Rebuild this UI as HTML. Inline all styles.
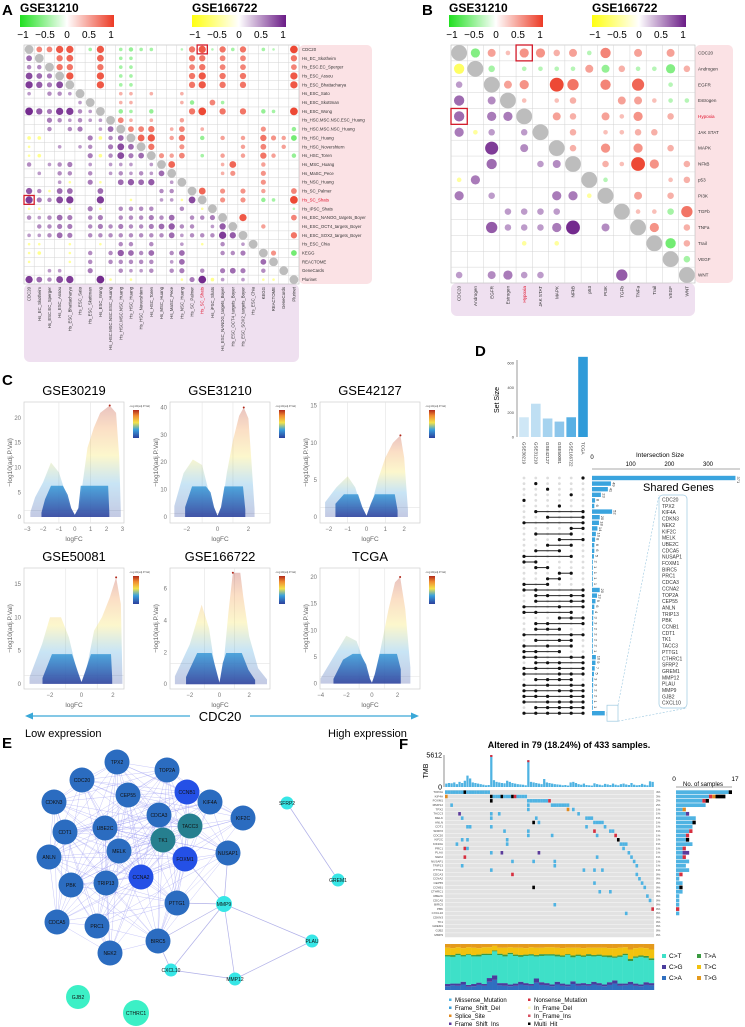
<!DOCTYPE html>
<html><head><meta charset="utf-8"><style>
html,body{margin:0;padding:0;background:#fff;}
svg{display:block;font-family:"Liberation Sans",Arial,sans-serif;}
</style></head><body>
<svg id="fig" width="745" height="1027" viewBox="0 0 745 1027" xmlns="http://www.w3.org/2000/svg">
<defs>
<linearGradient id="gRG" x1="0" x2="1" y1="0" y2="0"><stop offset="0" stop-color="#1fe01f"/><stop offset="0.5" stop-color="#ffffff"/><stop offset="1" stop-color="#ec3a25"/></linearGradient>
<linearGradient id="gYP" x1="0" x2="1" y1="0" y2="0"><stop offset="0" stop-color="#ffff10"/><stop offset="0.5" stop-color="#ffffff"/><stop offset="1" stop-color="#6a1b86"/></linearGradient>
<linearGradient id="gVL" x1="0" x2="0" y1="1" y2="0"><stop offset="0" stop-color="#2b3f9c"/><stop offset="0.3" stop-color="#3aa0dc"/><stop offset="0.55" stop-color="#f3e24a"/><stop offset="0.8" stop-color="#f08a30"/><stop offset="1" stop-color="#b0281a"/></linearGradient>
</defs>
<rect x="0" y="0" width="745" height="1027" fill="#fff"/>
</svg>
<script>
// ---------- DATA ----------
const labelsA = ["CDC20","Hs_EC_Skotheim","Hs_ESC.EC_Sperger","Hs_ESC_Assou","Hs_ESC_Bhattacharya","Hs_ESC_Sato","Hs_ESC_Skottman","Hs_ESC_Wong","Hs_HSC.MSC.NSC.ESC_Huang","Hs_HSC.MSC.NSC_Huang","Hs_HSC_Huang","Hs_HSC_Novershtern","Hs_HSC_Toren","Hs_MSC_Huang","Hs_MaSC_Pece","Hs_NSC_Huang","Hs_SC_Palmer","Hs_SC_Shats","Hs_iPSC_Shats","Hs_ESC_NANOG_targets_Boyer","Hs_ESC_OCT4_targets_Boyer","Hs_ESC_SOX2_targets_Boyer","Hs_ESC_Chia","KEGG","REACTOME","GeneCards","Plurinet"];
const corrA = [
"D5588.b8.bcbb..a68a6b6.ba.9","5D.67..7.bb.....66.5.5....6","33D66..6.bb.....56.5.5....5","754D8..8.bb.....68.6.6....8",
"8647D..8.bb.....68.6.6....8","2.332D...22.2..2...........",".....2D..22....2c.5b.......","9648832D.cb.c...69.6.6.cb.9",
"..432322D52.2..3...........","..3.34.25D556.25.2.....4..c","bb....4b35D78.36.c.3.3.643e","a..2.23.475D6..4.....3.5.3.",
"ab....4b3745D435.b.3.3.63.c","3.234.2.222.2D7....27..3...",".2.33.3.232325D....24..4...","...2a.4a.5656.2D.......4...",
"63a55..5.....33.D7.4.4.3..5","84378..8..a..22a7D.4.4.cb.9","aa..a.4a.3333..3.aD.......a","32354.34.333435.334D.8....5",
".3344.34343345633.26D..3...","22354.333333335233386D....6","aa..a..a.33.3..2.a.3.2D....","ab..a.3.36535.35...334.D4.e",
"a...a.3.33333.25.......5D..","..22..4..3223.34.3.454.3.D.","85378..9a.a....a49b2.2.aa.D"];
const labelsB = ["CDC20","Androgen","EGFR","Estrogen","Hypoxia","JAK STAT","MAPK","NFkB","p53","PI3K","TGFb","TNFa","Trail","VEGF","WNT"];
const corrB = ["Dd314423a5.3.3.","eDb.aaaa3c2aad2","2.D34.96.5.7.a.","5.3D1.12..331aa","5.44D.32.314.2.","4a2.2D.2.1122..","..8.3.D2.4.4.2.",
"..5..23D.2194.2","a4......Da...12","4.2...44aD.3.2.","...2222...D11b6","..622249.3.D4.2","....a.a.....De2",".............Db","2.3422....6...D"];

// volcano envelopes: [logFC, max -log10 adj.P]
const volNames = ["GSE30219","GSE31210","GSE42127","GSE50081","GSE166722","TCGA"];
const env1 = [[-2.8,1],[-2.5,4],[-2,7],[-1.5,11],[-1,9],[-0.6,5],[-0.3,2],[0,0.5],[0.3,2],[0.5,7],[0.8,14],[1.2,18],[1.6,21],[2.2,22.5],[2.6,21],[2.8,12],[2.9,1]];
const env2 = [[-2.8,4],[-2.2,16],[-1.6,21],[-1,19],[-0.6,10],[-0.3,4],[0,0.5],[0.3,4],[0.6,16],[1,28],[1.4,37],[1.7,40],[2,36],[2.2,20],[2.4,3]];
const env3 = [[-2.2,2],[-1.6,4],[-1,5.5],[-0.6,4],[-0.3,1.5],[0,0.2],[0.3,2],[0.6,5],[1,8],[1.4,10],[1.8,11],[2,8],[2.2,1]];
const env4 = [[-3.3,1],[-2.5,6],[-2,10],[-1.3,10],[-0.8,7],[-0.3,2],[0,0.3],[0.3,2],[0.8,8],[1.3,10],[1.8,13],[2.2,16],[2.5,12],[2.6,1]];
const env5 = [[-3,0.5],[-2,2.5],[-1.2,5],[-0.7,3.5],[-0.3,1],[0,0.1],[0.3,1.5],[0.6,4.5],[0.9,7],[1.4,7],[1.6,5.5],[2,3],[2.6,1],[3.2,0.3]];
const env6 = [[-4,1],[-3,5],[-2,9],[-1.2,8],[-0.6,4],[-0.2,1],[0,0.2],[0.3,2],[0.8,8],[1.3,14],[1.8,19],[2.2,20],[2.6,14],[3,3]];
const volXTicks = [[-3,-2,-1,0,1,2,3],[-2,0,2],[-2,-1,0,1,2],[-2,0,2],[-2,0,2],[-4,-2,0,2]];
const volYTicks = [[0,5,10,15,20],[0,10,20,30,40],[0,5,10,15],[0,5,10,15],[0,2,4,6],[0,5,10,15,20]];
const volXDom = [[-3.2,3.1],[-3.08,3.4],[-2.47,2.84],[-3.65,2.7],[-3.33,3.4],[-4.05,3.75]];
const volYDom = [[-1.2,23.2],[-2.2,42],[-0.8,15.5],[-0.76,17.4],[-0.3,7.3],[-1,21.7]];

// upset
const setNames = ["GSE30219","GSE31210","GSE42127","GSE50081","GSE166722","TCGA"];
const setSizes = [160,270,150,125,160,650];
const combos = ["000001","010000","001000","000010","100000","000100","010001","001001","100001","000011","010010","000101","001010","010100","100010","110000","011000","000110","001100","101000",
"110001","011011","010011","100101","110010","000111","011001","011100","100011","010110","101010","110100",
"110011","011101","110101","100111","011110","101011","110111","111011","101111","011111","111111"];
const comboSizes = [371,49,41,23,8,6,52,20,18,14,10,8,6,6,5,2,1,1,1,1,20,13,9,6,4,3,3,2,2,2,2,1,10,9,7,5,3,3,2,2,1,1,33];
const sharedGenes = ["CDC20","TPX2","KIF4A","CDKN3","NEK2","KIF2C","MELK","UBE2C","CDCA5","NUSAP1","FOXM1","BIRC5","PRC1","CDCA3","CCNA2","TOP2A","CEP55","ANLN","TRIP13","PBK","CCNB1","CDT1","TK1","TACC3","PTTG1","CTHRC1","SFRP2","GREM1","MMP12","PLAU","MMP9","GJB2","CXCL10"];

// network
const netGenes = ["TPX2","TOP2A","CDC20","CCNB1","KIF4A","CDKN3","CEP55","CDCA3","TACC3","KIF2C","CDT1","UBE2C","TK1","MELK","FOXM1","NUSAP1","ANLN","CCNA2","PBK","TRIP13","PTTG1","CDCA5","PRC1","BIRC5","NEK2","SFRP2","GREM1","MMP9","PLAU","CXCL10","MMP12","GJB2","CTHRC1"];
const netGroup = [0,0,0,1,0,0,0,0,2,0,0,0,2,0,1,0,0,1,0,0,0,0,0,0,0,3,3,3,3,3,3,4,4];
const netX = [117,167,82,187,210,54,128,159,190,243,65,105,163,119,185,228,49,141,71,106,177,57,97,158,110,287,338,224,312,171,235,78,136];
const netY = [762,770,780,792,802,802,795,815,826,818,832,828,840,851,859,853,857,877,885,883,903,922,926,941,953,803,880,904,941,970,979,997,1013];
const netR = [12.5,12.5,12.5,12.5,12.5,12.5,12.5,12.5,12.5,12.5,12.5,12.5,12.5,12.5,12.5,12.5,12.5,12.5,12.5,12.5,12.5,12.5,12.5,12.5,12.5,6.5,6.5,8,6.5,6.5,6.5,12,13];
const extraEdges = [["SFRP2","GREM1"],["MMP9","PLAU"],["MMP9","CXCL10"],["MMP9","MMP12"],["CXCL10","MMP12"],["PLAU","MMP12"],["MMP9","PTTG1"],["MMP9","BIRC5"],["MMP9","FOXM1"],["MMP9","NUSAP1"],["CXCL10","BIRC5"]];

// oncoplot
const oncoGenes = ["TOP2A","KIF4A","FOXM1","MMP12","TPX2","TACC3","MELK","ANLN","CDT1","SFRP2","CDC20","KIF2C","KIF20A","PRC1","PLAU","NEK2","NUSAP1","TRIP13","PTTG1","CDCA3","CCNA2","CEP55","CCNB1","CTHRC1","UBE2C","CDCA5","BIRC5","PBK","CXCL10","CDKN3","TK1","GREM1","GJB2","MMP9"];
const oncoMuts = ["0-16m,7x","0s,17-30m,17x,21x,25x,26n","31-39m,17x,39n","40-46m,31m,2m","46s,48m,31m","5f,17m,20m,50m","6m,17m,34m,53-55m","33x,35m,56-59m","8m,9m,17m,53m,60m","22m,31m,56n,62-63m",
"31m,40m,57m,64n","6m,8m,23m,65x","4m,23m,66-68m","7n,8m,67m","17m,21f,35f,69m","7n,57m,70m","25m,33m,41m,71m","6m,41m,72m","17m,52m,56m,59m","25n,72m",
"73m","56m,74m","33x,75m","58m,62m","76m","77m","41m","78n","68m","","","","",""];
const tmb = [600,700,650,800,500,900,700,1100,2000,1500,800,700,600,500,400,300,350,5612,1200,900,800,700,650,1100,900,700,600,500,450,400,300,4700,900,800,700,600,500,1400,800,700,
600,500,450,400,300,350,250,800,900,700,500,400,600,350,300,250,650,500,400,300,550,450,350,600,400,300,500,600,450,350,700,400,300,350,550,400,300,1000,900];
const specCT = [60,58,62,55,65,60,57,63,50,52,61,58,66,60,54,59,62,48,57,60,63,55,58,64,52,60,57,61,55,59,60,54,49,58,62,45,56,60,53,50];
const specCA = [8,10,9,12,7,8,11,9,18,22,10,9,8,9,12,10,9,16,11,10,8,12,9,8,13,9,10,9,12,10,8,11,14,9,10,12,9,8,11,10];
const specCG = [5,4,5,6,4,5,5,4,8,10,5,6,4,5,6,5,4,9,6,5,4,6,5,4,6,5,5,4,6,5,4,6,7,5,4,6,5,4,6,5];
const specTA = [3,4,3,3,2,3,4,3,3,2,3,4,3,3,4,3,3,3,4,3,3,4,3,2,4,3,3,4,3,3,3,4,3,3,3,5,3,3,4,4];
const specTC = [16,15,14,15,15,16,14,14,14,10,13,15,12,15,16,14,15,16,14,15,15,15,16,14,17,15,16,14,16,15,17,16,18,17,14,20,18,17,17,19];
const specTG = [8,9,7,9,7,8,9,7,7,4,8,8,7,8,8,9,7,8,8,7,7,8,9,8,8,8,9,8,8,8,8,9,9,8,7,12,9,8,9,12];
</script>
<script>
const NS='http://www.w3.org/2000/svg';
const svg=document.getElementById('fig');
function mk(tag,a,p){const e=document.createElementNS(NS,tag);for(const k in a)e.setAttribute(k,a[k]);(p||svg).appendChild(e);return e;}
function tx(s,a,p){const e=mk('text',a,p);e.textContent=s;return e;}
function hex(c){return [parseInt(c.slice(1,3),16),parseInt(c.slice(3,5),16),parseInt(c.slice(5,7),16)];}
function mix(c1,c2,t){const a=hex(c1),b=hex(c2);return 'rgb('+a.map((v,i)=>Math.round(v+(b[i]-v)*t)).join(',')+')';}
function dec(ch){if(ch==='.')return 0;if(ch>='1'&&ch<='9')return (ch.charCodeAt(0)-48)/10;return -(ch.charCodeAt(0)-96)/10;}

// ---------- panel letters ----------
[["A",2,15],["B",422,15],["C",2,385],["D",475,356],["E",2,748],["F",399,749]].forEach(p=>{
 const t=tx(p[0],{x:p[1],y:p[2],'font-size':15,'font-weight':'bold'});
 
 
});

// ---------- colorbars ----------
function colorbar(title,x,y,grad,nm){
 const t=tx(title,{x:x,y:y-3,'font-size':12,'font-weight':'bold'});
 
 
 const r=mk('rect',{x:x,y:y,width:94,height:12,fill:'url(#'+grad+')'});
 
 
 ["−1","−0.5","0","0.5","1"].forEach((s,i)=>{
  const l=tx(s,{x:x+3+i*22,y:y+23,'font-size':10,'text-anchor':'middle'});
  
  
 });
}
colorbar("GSE31210",20,15,'gRG','a-gse31210');
colorbar("GSE166722",192,15,'gYP','a-gse166722');
colorbar("GSE31210",449,15,'gRG','b-gse31210');
colorbar("GSE166722",592,15,'gYP','b-gse166722');

// ---------- correlation matrices ----------
function corr(o){
 const n=o.labels.length, cw=o.w/n, ch=o.h/n;
 const pk=mk('rect',{x:o.x+o.w,y:o.y,width:o.pinkW,height:o.h,rx:5,fill:'#fbe2e5'});
 
 
 const pu=mk('rect',{x:o.x,y:o.y+o.h,width:o.w,height:o.purpH,rx:6,fill:'#efe0f0'});
 
 
 const bg=mk('rect',{x:o.x,y:o.y,width:o.w,height:o.h,fill:'#fff',stroke:'#bbb','stroke-width':0.6});
 
 
 for(let i=1;i<n;i++){
  const l1=mk('line',{x1:o.x+i*cw,x2:o.x+i*cw,y1:o.y,y2:o.y+o.h,stroke:'#d4d4d4','stroke-width':0.5});
  
  
  const l2=mk('line',{x1:o.x,x2:o.x+o.w,y1:o.y+i*ch,y2:o.y+i*ch,stroke:'#d4d4d4','stroke-width':0.5});
  
  
 }
 const R=Math.min(cw,ch)/2;
 for(let r=0;r<n;r++){
  const row=o.data[r];
  for(let c=0;c<n;c++){
   const ch0=row[c]; const cx=o.x+(c+.5)*cw, cy=o.y+(r+.5)*ch;
   let fill,rad;
   if(ch0==='D'){fill='#bdbdbd';rad=R*1.0;}
   else{const v=dec(ch0);if(v===0)continue;rad=R*0.92*Math.sqrt(Math.abs(v));
    if(c>r) fill=v>0?mix('#ffffff','#ec3a25',0.25+0.75*v):mix('#ffffff','#1fe01f',0.25+0.75*(-v));
    else fill=v>0?mix('#ffffff','#6a1b86',0.3+0.7*v):mix('#ffffff','#ffff10',0.35+0.6*(-v));}
   const cc=mk('circle',{cx:cx,cy:cy,r:rad,fill:fill});
   
   
  }
  const lab=tx(o.labels[r],{x:o.x+o.w+3,y:o.y+(r+.5)*ch+o.fs*0.35,'font-size':o.fs,fill:r===o.hl?'#e0102a':'#333'});
  
  
  const cl=tx(o.labels[r],{x:0,y:0,'font-size':o.fs,fill:r===o.hl?'#e0102a':'#333','text-anchor':'end',transform:'translate('+(o.x+(r+.5)*cw+o.fs*0.35)+','+(o.y+o.h+3)+') rotate(-90)'});
  
  
 }
 [[0,o.hl],[o.hl,0]].forEach(p=>{
  const hb=mk('rect',{x:o.x+p[1]*cw,y:o.y+p[0]*ch,width:cw,height:ch,fill:'none',stroke:'#d21a2a','stroke-width':1.3});
  
  
 });
}
corr({x:24,y:45,w:275,h:239,labels:labelsA,data:corrA,hl:17,pinkW:73,purpH:78,fs:4.3,nm:'corr-a'});
corr({x:451,y:45,w:244,h:238,labels:labelsB,data:corrB,hl:4,pinkW:38,purpH:33,fs:4.6,nm:'corr-b'});

// ---------- volcano plots ----------
const envs=[env1,env2,env3,env4,env5,env6];
const boxes=[[24,402],[170,402],[320,402],[24,568],[170,568],[320,568]];
volNames.forEach((nm,k)=>{
 const bx=boxes[k][0], by=boxes[k][1], bw=100, bh=121;
 const xd=volXDom[k], yd=volYDom[k];
 const sx=v=>bx+(v-xd[0])/(xd[1]-xd[0])*bw, sy=v=>by+bh-(v-yd[0])/(yd[1]-yd[0])*bh;
 const g=mk('g',{});
 
 
 const t=tx(nm,{x:bx+bw/2,y:by-7,'font-size':13,'text-anchor':'middle'},g);
 
 
 const fr=mk('rect',{x:bx,y:by,width:bw,height:bh,fill:'#fff',stroke:'#cfcfcf','stroke-width':0.7},g);
 
 
 [-1,1].forEach(v=>{const l=mk('line',{x1:sx(v),x2:sx(v),y1:by,y2:by+bh,stroke:'#e3e3e3','stroke-width':0.6},g);
  
  });
 const hl=mk('line',{x1:bx,x2:bx+bw,y1:sy(1.3),y2:sy(1.3),stroke:'#e3e3e3','stroke-width':0.6},g);
 
 
 const e=envs[k]; const ymax=Math.max(...e.map(p=>p[1]));
 const gid='vg'+k;
 const lg=mk('linearGradient',{id:gid,gradientUnits:'userSpaceOnUse',x1:0,x2:0,y1:sy(0),y2:sy(ymax)},svg.querySelector('defs'));
 [['0','#2b3f9c'],['0.3','#3aa0dc'],['0.55','#f3e24a'],['0.8','#f08a30'],['1','#b0281a']].forEach(s=>mk('stop',{offset:s[0],'stop-color':s[1]},lg));
 let pts=e.map(p=>sx(p[0])+','+sy(p[1])).join(' ');
 pts=sx(e[0][0])+','+sy(0)+' '+pts+' '+sx(e[e.length-1][0])+','+sy(0);
 const poly=mk('polygon',{points:pts,fill:'url(#'+gid+')','fill-opacity':0.28},g);
 
 
 const cap=ymax*0.28;
 let cp=e.map(p=>sx(p[0]*0.75)+','+sy(Math.min(p[1]*0.9,cap))).join(' ');
 cp=sx(e[0][0]*0.75)+','+sy(0)+' '+cp+' '+sx(e[e.length-1][0]*0.75)+','+sy(0);
 const core=mk('polygon',{points:cp,fill:'url(#'+gid+')','fill-opacity':0.85},g);
 
 
 const hi=e.reduce((a,b)=>b[1]>a[1]?b:a);
 const dot=mk('circle',{cx:sx(hi[0]),cy:sy(hi[1]),r:1,fill:'#b0281a'},g);
 
 
 volXTicks[k].forEach(v=>{const l=tx(v<0?'−'+(-v):String(v),{x:sx(v),y:by+bh+8,'font-size':6,fill:'#777','text-anchor':'middle'},g);
  
  });
 volYTicks[k].forEach(v=>{const l=tx(String(v),{x:bx-3,y:sy(v)+2,'font-size':6,fill:'#777','text-anchor':'end'},g);
  
  });
 const xl=tx('logFC',{x:bx+bw/2,y:by+bh+18,'font-size':6.5,fill:'#666','text-anchor':'middle'},g);
 
 
 const yl=tx('−log10(adj.P.Val)',{x:0,y:0,'font-size':6.5,fill:'#666','text-anchor':'middle',transform:'translate('+(bx-12)+','+(by+bh/2)+') rotate(-90)'},g);
 
 
 const lt=tx('−log10(adj.P.Val)',{x:bx+bw+5,y:by+5,'font-size':2.8,fill:'#555'},g);
 
 
 const lb=mk('rect',{x:bx+bw+9,y:by+8,width:6,height:28,fill:'url(#gVL)'},g);
 
 
});
// CDC20 arrow
const ar1=mk('line',{x1:30,x2:190,y1:716,y2:716,stroke:'#3aa8d8','stroke-width':1.3});


const ah1=mk('polygon',{points:'25,716 33,712.5 33,719.5',fill:'#3aa8d8'});


const ar2=mk('line',{x1:250,x2:412,y1:716,y2:716,stroke:'#3aa8d8','stroke-width':1.3});


const ah2=mk('polygon',{points:'419,716 411,712.5 411,719.5',fill:'#3aa8d8'});


[["CDC20",220,721,13,'middle','cdc20-label'],["Low expression",25,737,11,'start','low-expression-label'],["High expression",328,737,11,'start','high-expression-label']].forEach(a=>{
 const t=tx(a[0],{x:a[1],y:a[2],'font-size':a[3],'text-anchor':a[4]});
 
 
});

// ---------- upset ----------
(function(){
 const colX=i=>524+i*11.8;
 const ySet=v=>437-v*(74/600);
 const ax=mk('line',{x1:517,x2:517,y1:360,y2:437,stroke:'#555','stroke-width':0.6});
 
 
 [0,200,400,600].forEach(v=>{const l=tx(String(v),{x:514,y:ySet(v)+1.5,'font-size':4,'text-anchor':'end',fill:'#444'});
  
  });
 const st=tx('Set Size',{x:0,y:0,'font-size':7,'text-anchor':'middle',transform:'translate(499,400) rotate(-90)'});
 
 
 const cols=['#cfe7f6','#bfdff3','#a6d3ef','#8dc6eb','#58b0e4','#2f9bd9'];
 setSizes.forEach((v,i)=>{
  const b=mk('rect',{x:colX(i)-4.8,y:ySet(v),width:9.6,height:437-ySet(v),fill:cols[i]});
  
  
  const l=tx(setNames[i],{x:0,y:0,'font-size':4.5,fill:'#333','text-anchor':'start',transform:'translate('+(colX(i)-1.5)+',442) rotate(90)'});
  
  
 });
 const rowY=j=>478+j*5.6;
 const xI=v=>592+v*(116/300);
 const ia=mk('line',{x1:592,x2:740,y1:469,y2:469,stroke:'#555','stroke-width':0.6});
 
 
 [0,100,200,300].forEach(v=>{const l=tx(String(v),{x:xI(v),y:v===0?459:466,'font-size':6,'text-anchor':'middle'});
  
  });
 const it=tx('Intersection Size',{x:660,y:457,'font-size':6.5,'text-anchor':'middle'});
 
 
 combos.forEach((c,j)=>{
  const y=rowY(j); const mem=[];
  for(let i=0;i<6;i++){
   if(c[i]==='1')mem.push(i);
   else{const d=mk('circle',{cx:colX(i),cy:y,r:1.4,fill:'#ddd'});
    
    }
  }
  if(mem.length>1){const l=mk('line',{x1:colX(mem[0]),x2:colX(mem[mem.length-1]),y1:y,y2:y,stroke:'#222','stroke-width':1});
   
   }
  mem.forEach(i=>{const d=mk('circle',{cx:colX(i),cy:y,r:1.6,fill:'#111'});
   
   });
  const v=comboSizes[j];
  const b=mk('rect',{x:592,y:y-2.2,width:Math.max(0.8,xI(v)-592),height:4.4,fill:'#3aa4de'});
  
  
  const nl=tx(String(v),{x:0,y:0,'font-size':4,fill:'#333',transform:'translate('+(xI(v)+1.5)+','+(y-1.5)+') rotate(90)'});
  
  
 });
 const sg=tx('Shared Genes',{x:643,y:491,'font-size':11});
 
 
 const gb=mk('rect',{x:659,y:495,width:28,height:213,rx:4,fill:'#fff',stroke:'#9cc8e0','stroke-width':0.7});
 
 
 sharedGenes.forEach((s,i)=>{const t=tx(s,{x:662,y:501.5+i*6.35,'font-size':5,fill:'#333'});
  
  });
 const yl=rowY(combos.length-1);
 const b33=mk('rect',{x:607,y:yl-8,width:11,height:16,fill:'#fff',stroke:'#9cc8e0','stroke-width':0.7});
 
 
 [[618,yl-8,659,495],[618,yl+8,687,708]].forEach(p=>{const l=mk('line',{x1:p[0],y1:p[1],x2:p[2],y2:p[3],stroke:'#9cc8e0','stroke-width':0.6,'stroke-dasharray':'2,1.5'});
  
  });
})();

// ---------- network ----------
(function(){
 const colors=['#2b6cc0','#2450e6','#267f8f','#37e6e6','#3cf0c6'];
 const idx={}; netGenes.forEach((g,i)=>idx[g]=i);
 for(let i=0;i<netGenes.length;i++)for(let j=i+1;j<netGenes.length;j++){
  if(netGroup[i]<3&&netGroup[j]<3){
   const d=Math.hypot(netX[i]-netX[j],netY[i]-netY[j]);
   if(d<150&&((i*7+j*3)%4!==0)){const l=mk('line',{x1:netX[i],y1:netY[i],x2:netX[j],y2:netY[j],stroke:'#8c8cf0','stroke-width':0.45,'stroke-opacity':0.55});
    
    }
  }
 }
 extraEdges.forEach(p=>{const a=idx[p[0]],b=idx[p[1]];
  const l=mk('line',{x1:netX[a],y1:netY[a],x2:netX[b],y2:netY[b],stroke:'#b0b0e8','stroke-width':0.7});
  
  });
 netGenes.forEach((g,i)=>{
  const c=mk('circle',{cx:netX[i],cy:netY[i],r:netR[i],fill:colors[netGroup[i]]});
  
  
  const t=tx(g,{x:netX[i],y:netY[i]+1.8,'font-size':5,'text-anchor':'middle',fill:'#111'});
  
  
 });
})();

// ---------- oncoplot ----------
(function(){
 const x0=445,x1=654,nS=79,cw=(x1-x0)/nS,y0=790,rh=4.33;
 const tc={m:'#4fb3e2',n:'#d62f3f',f:'#5b3b9b',s:'#e08a20',x:'#000000'};
 const t=tx('Altered in 79 (18.24%) of 433 samples.',{x:569,y:748,'font-size':9,'font-weight':'bold','text-anchor':'middle'});
 
 
 const yT=v=>787-v*(32/5612);
 const ta=mk('line',{x1:x0-1,x2:x0-1,y1:755,y2:787,stroke:'#444','stroke-width':0.6});
 
 
 [['5612',755],['0',787]].forEach(p=>{const l=tx(p[0],{x:x0-3,y:p[1]+2.5,'font-size':7,'text-anchor':'end'});
  
  });
 const tl=tx('TMB',{x:0,y:0,'font-size':7,'text-anchor':'middle',transform:'translate(428,771) rotate(-90)'});
 
 
 tmb.forEach((v,i)=>{const b=mk('rect',{x:x0+i*cw+0.2,y:yT(v),width:cw-0.4,height:787-yT(v),fill:'#4fb3e2'});
  
  
  if(v>4000){const r=mk('rect',{x:x0+i*cw+0.2,y:yT(v),width:cw-0.4,height:2,fill:'#d62f3f'});
   
   }});
 const gbg=mk('rect',{x:x0,y:y0,width:x1-x0,height:rh*oncoGenes.length,fill:'#e2e2e2'});
 
 
 for(let r=1;r<oncoGenes.length;r++){const l=mk('line',{x1:x0,x2:x1,y1:y0+r*rh,y2:y0+r*rh,stroke:'#fff','stroke-width':0.4});
  
  }
 const xN=v=>676+v*(56/17);
 const na=mk('line',{x1:676,x2:732,y1:787,y2:787,stroke:'#444','stroke-width':0.5});
 
 
 [['0',674],['17',735]].forEach(p=>{const l=tx(p[0],{x:p[1],y:781,'font-size':6.5,'text-anchor':'middle'});
  
  });
 const nt=tx('No. of samples',{x:703,y:786,'font-size':6,'text-anchor':'middle'});
 
 
 oncoGenes.forEach((g,r)=>{
  const y=y0+r*rh; const cells=[];
  oncoMuts[r].split(',').filter(s=>s).forEach(s=>{const ty=s.slice(-1),rg=s.slice(0,-1).split('-').map(Number);
   for(let c=rg[0];c<=(rg[1]===undefined?rg[0]:rg[1]);c++)cells.push([c,ty]);});
  const uniq={}; cells.forEach(c=>uniq[c[0]]=c[1]);
  const keys=Object.keys(uniq).map(Number);
  keys.forEach(c=>{const ty=uniq[c];const b=mk('rect',{x:x0+c*cw,y:y+0.4,width:cw,height:rh-0.8,fill:tc[ty]});
   
   });
  const gl=tx(g,{x:x0-2,y:y+3,'font-size':3,'text-anchor':'end',fill:'#444'});
  
  
  const pl=tx(Math.round(keys.length/433*100)+'%',{x:x1+2,y:y+3,'font-size':3,fill:'#444'});
  
  
  let cx=676;
  ['m','n','f','s','x'].forEach(ty=>{const cnt=keys.filter(c=>uniq[c]===ty).length;if(!cnt)return;
   const b=mk('rect',{x:cx,y:y+0.3,width:xN(cnt)-676,height:rh-0.6,fill:tc[ty]});
   
   
   cx+=xN(cnt)-676;});
 });
 // spectrum
 const sy0=944,sh=46,n=specCT.length,sw=(x1-x0)/n;
 const scol=[['CA','#2f6fc0',specCA],['CG','#4a3c9c',specCG],['CT','#3ee0c8',specCT],['TA','#3a9a40',specTA],['TC','#f2c20e',specTC],['TG','#e49a1c',specTG]];
 for(let i=0;i<n;i++){
  const tot=scol.reduce((a,s)=>a+s[2][i],0); let yb=sy0+sh;
  scol.forEach(s=>{const h=s[2][i]/tot*sh;const b=mk('rect',{x:x0+i*sw,y:yb-h,width:sw+0.2,height:h,fill:s[1]});
   
   
   yb-=h;});
 }
 [['C>T','#3ee0c8',662,958],['C>G','#4a3c9c',662,969],['C>A','#2f6fc0',662,980],['T>A','#3a9a40',697,958],['T>C','#f2c20e',697,969],['T>G','#e49a1c',697,980]].forEach(p=>{
  const r=mk('rect',{x:p[2],y:p[3]-4,width:4,height:4,fill:p[1]});
  
  
  const t=tx(p[0],{x:p[2]+7,y:p[3],'font-size':6.5});
  
  
 });
 [['Missense_Mutation','#4fb3e2',449,1002],['Frame_Shift_Del','#3a9ed8',449,1010],['Splice_Site','#e08a20',449,1018],['Frame_Shift_Ins','#5b3b9b',449,1026],
  ['Nonsense_Mutation','#d62f3f',528,1002],['In_Frame_Del','#fff6c0',528,1010],['In_Frame_Ins','#d85060',528,1018],['Multi_Hit','#000000',528,1026]].forEach(p=>{
  const r=mk('rect',{x:p[2],y:p[3]-3.5,width:2.5,height:2.5,fill:p[1]});
  
  
  const t=tx(p[0],{x:p[2]+6,y:p[3],'font-size':6});
  
  
 });
})();
</script>
</body></html>
